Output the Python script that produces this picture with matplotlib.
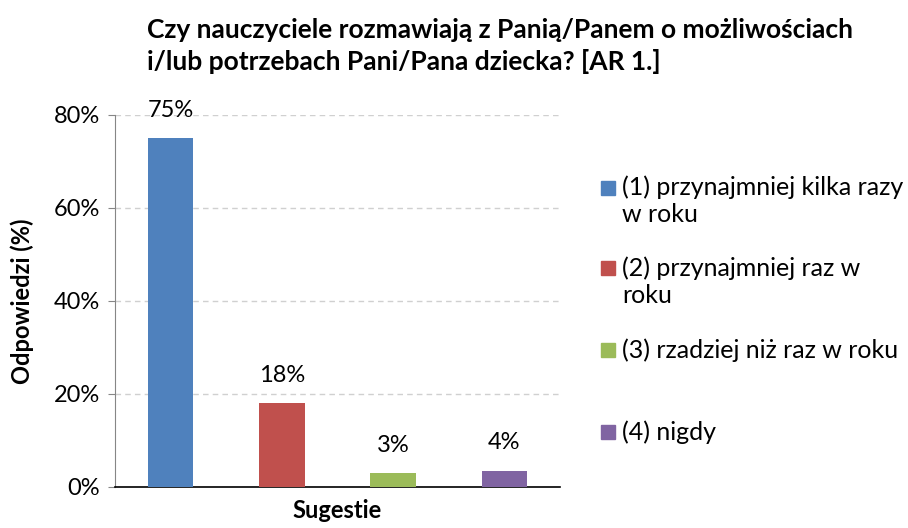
import matplotlib.pyplot as plt
from matplotlib.patches import Rectangle

# data
categories = ['(1) przynajmniej kilka razy\nw roku',
              '(2) przynajmniej raz w\nroku',
              '(3) rzadziej niż raz w roku',
              '(4) nigdy']
values = [75, 18, 3, 3.5]
colors = ['#4F81BD', '#C0504D', '#9BBB59', '#8064A2']
yticks = [0, 20, 40, 60, 80]

plt.rcParams['font.family'] = ['Lato', 'DejaVu Sans']

fig = plt.figure(figsize=(9.08, 5.28), dpi=100)
ax = fig.add_axes([0.1267, 0.0777, 0.49, 0.7045])

x = range(len(values))
ax.bar(x, values, width=0.41, color=colors, zorder=3)
for i, v in enumerate(values):
    ax.text(i, v + 6.0, f'{v:.0f}%', ha='center', va='center', fontsize=17)

ax.set_xlim(-0.5, len(values) - 0.5)
ax.set_ylim(0, 80)
ax.set_yticks(yticks)
ax.set_yticklabels([f'{t}%' for t in yticks], fontsize=17)
ax.set_xticks([])
ax.yaxis.grid(True, linestyle=(0, (4, 3)), color='#D0D0D0', linewidth=1, zorder=0)
ax.tick_params(axis='y', length=5, color='#868686', pad=6)
for s in ['top', 'right']:
    ax.spines[s].set_visible(False)
ax.spines['left'].set_color('#868686')
ax.spines['bottom'].set_color('#000000')
ax.spines['bottom'].set_linewidth(1.2)

ax.set_ylabel('Odpowiedzi (%)', fontsize=17, fontweight='bold', labelpad=14)
ax.set_xlabel('Sugestie', fontsize=17, fontweight='bold', labelpad=9)

fig.text(0.162, 1 - 46 / 528, 'Czy nauczyciele rozmawiają z Panią/Panem o możliwościach\ni/lub potrzebach Pani/Pana dziecka? [AR 1.]',
         fontsize=19, fontweight='bold', ha='left', va='center', linespacing=1.3)

# legend drawn by hand (wrapped labels, box aligned with first line)
box_y = [188, 268, 350, 432]
text_y = [201, 282, 350, 432]
for c, lab, by, ty in zip(colors, categories, box_y, text_y):
    fig.patches.append(Rectangle((601 / 908, 1 - (by + 7) / 528), 14 / 908, 14 / 528,
                                 transform=fig.transFigure, color=c))
    fig.text(622 / 908, 1 - ty / 528, lab, fontsize=18, ha='left', va='center',
             linespacing=1.2)

fig.savefig('out.png', dpi=100)
